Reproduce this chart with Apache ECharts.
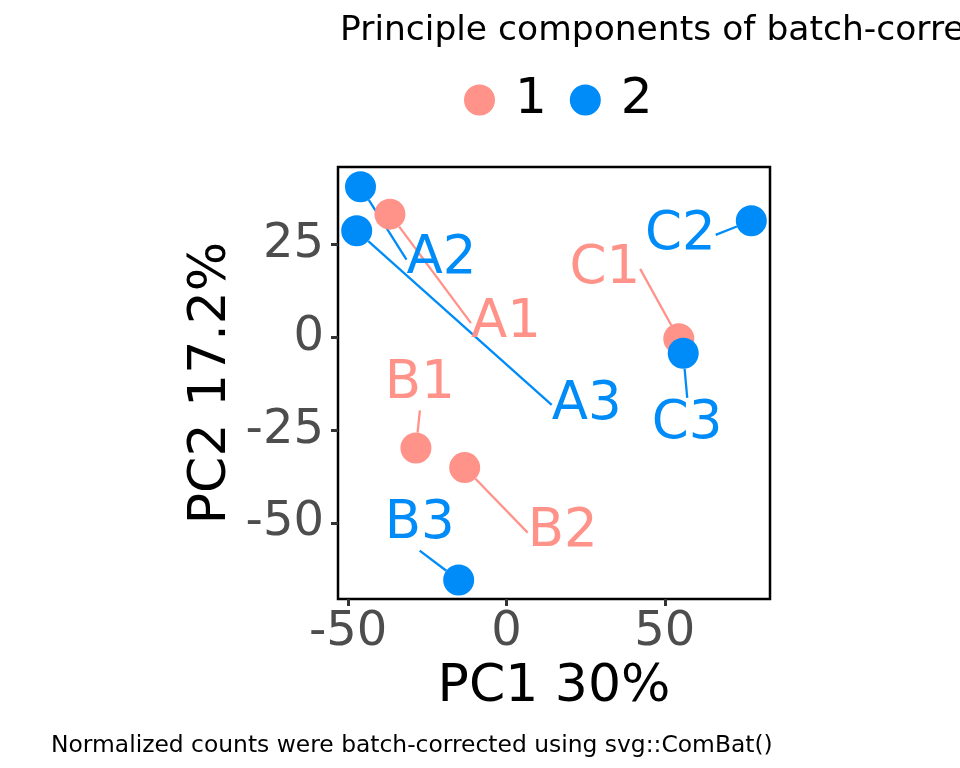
<!DOCTYPE html>
<html>
<head>
<meta charset="utf-8">
<script src="https://cdn.jsdelivr.net/npm/echarts@6/dist/echarts.min.js"></script>
<style>
  html, body { margin: 0; padding: 0; background: #fff; }
  #main { width: 960px; height: 768px; }
</style>
</head>
<body>
<div id="main"></div>
<script>
// samples, batch and PCA scores
var samples = ['A1', 'A2', 'A3', 'B1', 'B2', 'B3', 'C1', 'C2', 'C3']
var batch = ['1', '2', '2', '1', '1', '2', '1', '2', '2']
var pc1 = [-36.8, -46.1, -47.3, -28.6, -13.2, -15.1, 54.4, 77.3, 55.8]
var pc2 = [33.2, 40.6, 28.7, -29.8, -35.1, -65.4, -0.4, 31.4, -4.3]
var batches = ['1', '2']
var xTicks = [-50, 0, 50]
var yTicks = [-50, -25, 0, 25]

var colors = { '1': '#FF9289', '2': '#008CF8' }
var font = 'DejaVu Sans'

// label offsets (px) from each point, like ggrepel placed them
var labelOffset = {
  A1: [116, 109], A2: [81, 73], A3: [230, 174],
  B1: [4, -64], B2: [98, 65], B3: [-39, -56],
  C1: [-74, -70], C2: [-71, 14], C3: [4, 71]
}

var chart = echarts.init(document.getElementById('main'), null, { renderer: 'canvas' })

var series = batches.map(function (b) {
  var data = []
  samples.forEach(function (s, i) {
    if (batch[i] === b) data.push({ name: s, value: [pc1[i], pc2[i]] })
  })
  return {
    name: b,
    type: 'scatter',
    data: data,
    symbol: 'circle',
    symbolSize: 31,
    itemStyle: { color: colors[b], opacity: 1 },
    label: {
      show: true,
      position: 'inside',
      formatter: '{b}',
      color: colors[b],
      fontFamily: font,
      fontSize: 53
    },
    labelLine: {
      show: true,
      lineStyle: { color: colors[b], width: 2.3 }
    },
    labelLayout: function (p) {
      var o = labelOffset[p.text] || [0, 0]
      return { dx: o[0], dy: o[1] }
    },
    emphasis: { disabled: true }
  }
})

chart.setOption({
  animation: false,
  backgroundColor: '#fff',
  title: [
    {
      text: 'Principle components of batch-corrected data',
      left: 335, top: 9,
      textStyle: { fontFamily: font, fontSize: 34.5, fontWeight: 'normal', color: '#000' }
    },
    {
      text: 'Normalized counts were batch-corrected using svg::ComBat()',
      left: 46, top: 729,
      textStyle: { fontFamily: font, fontSize: 23.4, fontWeight: 'normal', color: '#000' }
    }
  ],
  legend: {
    data: batches,
    left: 459, top: 70,
    icon: 'circle',
    itemWidth: 31, itemHeight: 31,
    itemGap: 23,
    textStyle: { fontFamily: font, fontSize: 50, color: '#000', padding: [0, 0, 0, 15], lineHeight: 50 }
  },
  grid: {
    left: 338, top: 167, width: 432, height: 432,
    show: true, borderColor: '#000', borderWidth: 2.5, backgroundColor: '#fff'
  },
  xAxis: {
    type: 'value',
    min: -53.2, max: 83.2,
    name: 'PC1 30%',
    nameLocation: 'middle',
    nameGap: 61,
    nameTextStyle: { fontFamily: font, fontSize: 52, color: '#000' },
    splitLine: { show: false },
    axisLine: { show: false, onZero: false },
    axisTick: { show: true, customValues: xTicks, length: 7, lineStyle: { color: '#333', width: 3 } },
    axisLabel: { customValues: xTicks, fontFamily: font, fontSize: 48, color: '#4D4D4D', margin: 10 }
  },
  yAxis: {
    type: 'value',
    min: -70.5, max: 45.9,
    name: 'PC2 17.2%',
    nameLocation: 'middle',
    nameGap: 101,
    nameTextStyle: { fontFamily: font, fontSize: 52, color: '#000' },
    splitLine: { show: false },
    axisLine: { show: false, onZero: false },
    axisTick: { show: true, customValues: yTicks, length: 7, lineStyle: { color: '#333', width: 3 } },
    axisLabel: { customValues: yTicks, fontFamily: font, fontSize: 48, color: '#4D4D4D', margin: 14, padding: [6, 0, 0, 0] }
  },
  series: series
})
</script>
</body>
</html>
